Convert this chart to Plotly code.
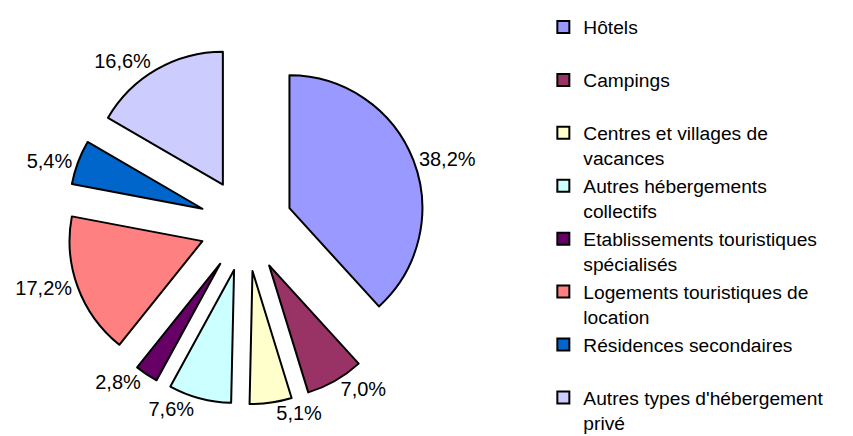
import plotly.graph_objects as go

categories = [
    "Hôtels<br> ",
    "Campings<br> ",
    "Centres et villages de<br>vacances",
    "Autres hébergements<br>collectifs",
    "Etablissements touristiques<br>spécialisés",
    "Logements touristiques de<br>location",
    "Résidences secondaires<br> ",
    "Autres types d'hébergement<br>privé",
]
values = [38.2, 7.0, 5.1, 7.6, 2.8, 17.2, 5.4, 16.6]
value_labels = ["38,2%", "7,0%", "5,1%", "7,6%", "2,8%", "17,2%", "5,4%", "16,6%"]
colors = ["#9999FF", "#993366", "#FFFFCC", "#CCFFFF", "#660066", "#FF8080", "#0066CC", "#CCCCFF"]

fig = go.Figure(go.Pie(
    labels=categories,
    values=values,
    text=value_labels,
    textinfo="text",
    textposition="outside",
    sort=False,
    direction="clockwise",
    rotation=0,
    pull=0.35,
    marker=dict(colors=colors, line=dict(color="black", width=2)),
    textfont=dict(family="Liberation Sans, Arial", size=20, color="black"),
    domain=dict(x=[0.0686, 0.4896], y=[0.0908, 0.9138]),
    hoverinfo="label+text",
))

fig.update_layout(
    width=853, height=436,
    margin=dict(l=0, r=0, t=0, b=0, autoexpand=False),
    paper_bgcolor="white",
    plot_bgcolor="white",
    font=dict(family="Liberation Sans, Arial", size=19.2, color="black"),
    showlegend=True,
    legend=dict(
        x=0.6276, y=1.0, xanchor="left", yanchor="top",
        valign="top",
        font=dict(family="Liberation Sans, Arial", size=19.2, color="black"),
        bgcolor="rgba(0,0,0,0)",
    ),
)

fig.write_html("out.html")
